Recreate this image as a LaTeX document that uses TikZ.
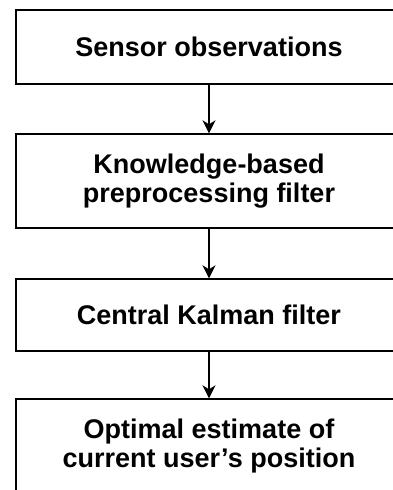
\documentclass[tikz,border=0pt]{standalone}
\usepackage{fontspec}
\setmainfont{Liberation Sans}
\usetikzlibrary{arrows.meta}
\begin{document}
\begin{tikzpicture}[x=1pt,y=-1pt,
  box/.style={draw=black,line width=1.4pt,minimum width=386pt,inner sep=0pt,align=center,
    font=\fontsize{27}{29}\selectfont\bfseries},
  arr/.style={line width=1.4pt,-{Stealth[length=13pt,width=13pt,inset=4pt]}}]
\useasboundingbox (0,0) rectangle (393,490);
\clip (0,0) rectangle (393,490);
\node[box,minimum height=74pt] (b1) at (209,47) {Sensor observations};
\node[box,minimum height=94pt] (b2) at (209,181) {Knowledge-based\\preprocessing filter};
\node[box,minimum height=72pt] (b3) at (209,315) {Central Kalman filter};
\node[box,minimum height=94pt] (b4) at (209,446) {Optimal estimate of\\current user’s position};
\draw[arr] (b1.south) -- (b2.north);
\draw[arr] (b2.south) -- (b3.north);
\draw[arr] (b3.south) -- (b4.north);
\end{tikzpicture}
\end{document}
